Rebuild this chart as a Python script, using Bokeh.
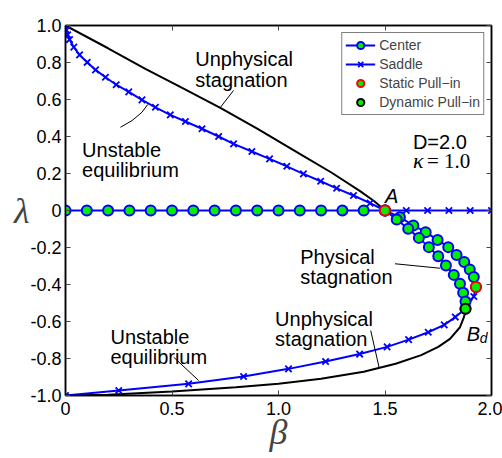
from bokeh.plotting import figure
from bokeh.models import (Range1d, LinearAxis, Label, Legend, LegendItem,
                          FixedTicker, CustomJSTickFormatter)
from bokeh.embed import file_html
from bokeh.resources import INLINE

# ---------------- data ----------------
center_beta = [0.0, 0.1, 0.2, 0.3, 0.4, 0.5, 0.6, 0.7, 0.8, 0.9, 1.0, 1.1, 1.2, 1.3, 1.4, 1.5]
center_lambda = [0.0] * 16

center_outer_beta = [1.5, 1.570, 1.633, 1.691, 1.747, 1.797, 1.836, 1.872, 1.898, 1.917, 1.927]
center_outer_lambda = [0.0, -0.036, -0.081, -0.117, -0.159, -0.198, -0.240, -0.279, -0.319, -0.360, -0.414]

center_inner_beta = [1.5, 1.555, 1.609, 1.659, 1.706, 1.750, 1.786, 1.823, 1.852, 1.867, 1.878, 1.878]
center_inner_lambda = [0.0, -0.049, -0.099, -0.148, -0.198, -0.247, -0.297, -0.348, -0.396, -0.445, -0.492, -0.531]

saddle_flat_beta = [1.5, 1.6, 1.7, 1.8, 1.9, 2.0]
saddle_flat_lambda = [0.0] * 6

saddle_upper_beta = [0.0, 0.004, 0.010, 0.019, 0.039, 0.066, 0.102, 0.141, 0.1875, 0.238, 0.297,
                     0.359, 0.422, 0.492, 0.563, 0.641, 0.719, 0.789, 0.875, 0.958, 1.039,
                     1.117, 1.198, 1.273, 1.352, 1.430, 1.5]
saddle_upper_lambda = [1.0, 0.975, 0.950, 0.924, 0.883, 0.841, 0.801, 0.760, 0.720, 0.680, 0.641,
                       0.598, 0.558, 0.517, 0.481, 0.442, 0.400, 0.360, 0.319, 0.279, 0.239,
                       0.198, 0.158, 0.120, 0.081, 0.040, 0.0]

saddle_lower_beta = [1.927, 1.917, 1.878, 1.830, 1.778, 1.703, 1.611, 1.510, 1.381, 1.221,
                     1.047, 0.836, 0.578, 0.250, 0.0]
saddle_lower_lambda = [-0.414, -0.465, -0.531, -0.576, -0.618, -0.658, -0.698, -0.737, -0.776,
                       -0.816, -0.856, -0.897, -0.937, -0.973, -1.0]

stag_upper_beta = [0.0, 0.2, 0.375, 0.55, 0.727, 0.9, 1.1, 1.25, 1.383, 1.45, 1.5]
stag_upper_lambda = [1.0, 0.877, 0.766, 0.662, 0.555, 0.443, 0.306, 0.204, 0.105, 0.050, 0.0]

stag_lower_beta = [0.0, 0.2, 0.5, 0.8, 1.0, 1.2, 1.4, 1.55, 1.67, 1.75, 1.805, 1.852,
                   1.868, 1.876, 1.878]
stag_lower_lambda = [-1.0, -0.996, -0.978, -0.956, -0.936, -0.910, -0.872, -0.828, -0.782, -0.737,
                     -0.694, -0.631, -0.585, -0.555, -0.531]

static_beta = [1.5, 1.927]
static_lambda = [0.0, -0.414]
dynamic_beta = [1.878]
dynamic_lambda = [-0.531]

x_ticks = [0.0, 0.5, 1.0, 1.5, 2.0]
y_ticks = [-1.0, -0.8, -0.6, -0.4, -0.2, 0.0, 0.2, 0.4, 0.6, 0.8, 1.0]

# ---------------- styles ----------------
BLUE = "#0000ff"
GREEN = "#00ee00"
SANS = "Liberation Sans"
SERIF = "Liberation Serif"

p = figure(width=502, height=458, output_backend="svg", toolbar_location=None,
           x_range=Range1d(0, 2.0), y_range=Range1d(-1.0, 1.0),
           min_border_left=65, min_border_right=11, min_border_top=25, min_border_bottom=63)
p.grid.visible = False
p.outline_line_color = "black"
p.outline_line_width = 1.5
p.background_fill_color = "white"

fmt_code = 'return tick == 0 ? "0" : tick.toFixed(1);'


def style_axis(ax, labels=True):
    ax.axis_line_color = "black"
    ax.axis_line_width = 1.5
    ax.major_tick_in = 5
    ax.major_tick_out = 0
    ax.major_tick_line_color = "#444444"
    ax.minor_tick_line_color = None
    ax.major_label_text_font = SANS
    if labels:
        ax.major_label_text_color = "black"
        ax.major_label_text_font_size = "18px"
        ax.formatter = CustomJSTickFormatter(code=fmt_code)
    else:
        ax.major_label_text_color = None
        ax.major_label_text_font_size = "0px"
        ax.major_label_standoff = 0


p.xaxis.ticker = FixedTicker(ticks=x_ticks)
p.yaxis.ticker = FixedTicker(ticks=y_ticks)
style_axis(p.xaxis[0])
style_axis(p.yaxis[0])
p.xaxis.major_label_standoff = 6
p.yaxis.major_label_standoff = 4

p.yaxis.axis_label = "λ"
p.yaxis.axis_label_orientation = "horizontal"
p.yaxis.axis_label_text_font = SERIF
p.yaxis.axis_label_text_font_style = "italic"
p.yaxis.axis_label_text_font_size = "36px"
p.yaxis.axis_label_standoff = -2
p.xaxis.axis_label = "β"
p.xaxis.axis_label_text_font = SERIF
p.xaxis.axis_label_text_font_style = "italic"
p.xaxis.axis_label_text_font_size = "36px"
p.xaxis.axis_label_standoff = -6

ax_r = LinearAxis(ticker=FixedTicker(ticks=y_ticks))
style_axis(ax_r, labels=False)
p.add_layout(ax_r, "right")
ax_t = LinearAxis(ticker=FixedTicker(ticks=x_ticks))
style_axis(ax_t, labels=False)
p.add_layout(ax_t, "above")

# ---------------- curves ----------------
p.line(stag_upper_beta, stag_upper_lambda, line_color="black", line_width=2)
p.line(stag_lower_beta, stag_lower_lambda, line_color="black", line_width=2)

XS, XW = 9, 1.8
sad_up_l = p.line(saddle_upper_beta, saddle_upper_lambda, line_color=BLUE, line_width=2)
sad_up_m = p.scatter(saddle_upper_beta, saddle_upper_lambda, marker="x", size=XS,
                     line_color=BLUE, line_width=XW)
p.line(saddle_lower_beta, saddle_lower_lambda, line_color=BLUE, line_width=2)
p.scatter(saddle_lower_beta, saddle_lower_lambda, marker="x", size=XS, line_color=BLUE, line_width=XW)
p.line(saddle_flat_beta, saddle_flat_lambda, line_color=BLUE, line_width=2)
p.scatter(saddle_flat_beta, saddle_flat_lambda, marker="x", size=XS, line_color=BLUE, line_width=XW)

cen_l = p.line(center_beta, center_lambda, line_color=BLUE, line_width=2)
cen_m = p.scatter(center_beta, center_lambda, marker="circle", size=10, fill_color=GREEN,
                  line_color=BLUE, line_width=2)
p.line(center_outer_beta, center_outer_lambda, line_color=BLUE, line_width=2)
p.scatter(center_outer_beta, center_outer_lambda, marker="circle", size=10, fill_color=GREEN,
          line_color=BLUE, line_width=2)
p.line(center_inner_beta, center_inner_lambda, line_color=BLUE, line_width=2)
p.scatter(center_inner_beta, center_inner_lambda, marker="circle", size=10, fill_color=GREEN,
          line_color=BLUE, line_width=2)

stat = p.scatter(static_beta, static_lambda, marker="circle", size=10, fill_color=GREEN,
                 line_color="#ff0000", line_width=2)
dyn = p.scatter(dynamic_beta, dynamic_lambda, marker="circle", size=10, fill_color=GREEN,
                line_color="black", line_width=2)

# ---------------- leader lines ----------------
leaders = [
    ([0.789, 0.727], [0.649, 0.557]),
    ([0.258, 0.3125, 0.359, 0.386], [0.450, 0.486, 0.531, 0.573]),
    ([1.547, 1.758], [-0.288, -0.312]),
    ([1.433, 1.472], [-0.649, -0.847]),
    ([0.508, 0.625], [-0.793, -0.919]),
]
for xs, ys in leaders:
    p.line(xs, ys, line_color="black", line_width=1)


# ---------------- text ----------------
def lab(x, y, t, size="20px", font=SANS, style="normal", align="left", baseline="alphabetic"):
    p.add_layout(Label(x=x, y=y, text=t, text_font=font, text_font_size=size,
                       text_font_style=style, text_align=align, text_baseline=baseline,
                       text_color="black"))


lab(0.609, 0.820, "Unphysical")
lab(0.609, 0.708, "stagnation")
lab(0.078, 0.328, "Unstable")
lab(0.078, 0.220, "equilibrium")
lab(1.102, -0.252, "Physical")
lab(1.102, -0.362, "stagnation")
lab(0.984, -0.584, "Unphysical")
lab(0.984, -0.697, "stagnation")
lab(0.211, -0.685, "Unstable")
lab(0.211, -0.790, "equilibrium")
lab(1.5, 0.081, "A", style="italic")
lab(1.884, -0.665, "B", style="italic")
lab(1.945, -0.690, "d", size="14px", style="italic")
lab(1.631, 0.368, "D=2.0")
lab(1.631, 0.270, "κ", size="22px", font=SERIF, style="italic")
lab(1.697, 0.270, "= 1.0", size="21px", font=SERIF)

# ---------------- legend ----------------
legend = Legend(items=[
    LegendItem(label="Center", renderers=[cen_l, cen_m]),
    LegendItem(label="Saddle", renderers=[sad_up_l, sad_up_m]),
    LegendItem(label="Static Pull\u2212in", renderers=[stat]),
    LegendItem(label="Dynamic Pull\u2212in", renderers=[dyn]),
], location="top_right")
legend.margin = 7
legend.padding = 3
legend.spacing = 1
legend.label_height = 18
legend.glyph_height = 18
legend.glyph_width = 30
legend.label_standoff = 4
legend.label_text_font = SANS
legend.label_text_font_size = "14px"
legend.border_line_color = "black"
legend.border_line_width = 1.5
legend.background_fill_alpha = 1.0
p.add_layout(legend)

open("out.html", "w").write(file_html(p, INLINE))
